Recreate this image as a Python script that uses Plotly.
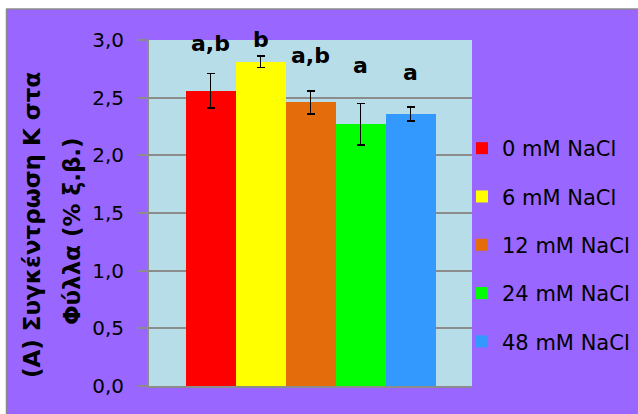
import plotly.graph_objects as go

# Leaf potassium concentration (% dry weight) under increasing NaCl
treatments = ["0 mM NaCl", "6 mM NaCl", "12 mM NaCl", "24 mM NaCl", "48 mM NaCl"]
k_content = [2.56, 2.81, 2.46, 2.27, 2.36]
k_error = [0.15, 0.05, 0.10, 0.18, 0.06]
group_labels = ["a,b", "b", "a,b", "a", "a"]
y_ticks = [0.0, 0.5, 1.0, 1.5, 2.0, 2.5, 3.0]

bar_colors = ["#FF0000", "#FFFF00", "#E46C0A", "#00FF00", "#3399FF"]
label_shift = [15, 2, 21, 23, 20]  # pixel lift of the letter labels above the error caps

W, H = 638, 414
M_L, M_R, M_T, M_B = 149, 166, 40, 28
PURPLE = "#9966FF"
GRID = "#8C8C8C"
FONT = "DejaVu Sans"


def px_x(p):
    return (p - M_L) / (W - M_L - M_R)


def px_y(p):
    return (H - M_B - p) / (H - M_T - M_B)


fig = go.Figure()
for name, val, err, col in zip(treatments, k_content, k_error, bar_colors):
    fig.add_trace(go.Bar(
        x=[name], y=[val], name=name, legendgroup=name,
        marker=dict(color=col, line=dict(width=0)),
        error_y=dict(type="data", array=[err], visible=True,
                     color="black", thickness=1.6, width=4),
    ))

annotations = []
for name, val, err, lab, sh in zip(treatments, k_content, k_error, group_labels, label_shift):
    annotations.append(dict(
        x=name, y=val + err, xref="x", yref="y", text=f"<b>{lab}</b>",
        showarrow=False, yanchor="bottom", yshift=sh,
        font=dict(family=FONT, size=22, color="black"),
    ))

# Two-line y-axis caption
annotations.append(dict(
    x=px_x(32), y=px_y(225), xref="paper", yref="paper",
    text="<b>(Α) Συγκέντρωση Κ στα</b>", textangle=-90, showarrow=False,
    xanchor="center", yanchor="middle",
    font=dict(family=FONT, size=23, color="black"),
))
annotations.append(dict(
    x=px_x(72), y=px_y(231), xref="paper", yref="paper",
    text="<b>Φύλλα (% ξ.β.)</b>", textangle=-90, showarrow=False,
    xanchor="center", yanchor="middle",
    font=dict(family=FONT, size=23, color="black"),
))

shapes = [
    # white strip and frame line around the chart area
    dict(type="rect", xref="paper", yref="paper", x0=px_x(0), x1=px_x(W),
         y0=px_y(9), y1=px_y(0), fillcolor="white", line=dict(width=0)),
    dict(type="rect", xref="paper", yref="paper", x0=px_x(0), x1=px_x(6),
         y0=px_y(H), y1=px_y(0), fillcolor="white", line=dict(width=0)),
    dict(type="line", xref="paper", yref="paper", x0=px_x(6), x1=px_x(W),
         y0=px_y(9), y1=px_y(9), line=dict(color=GRID, width=1.5)),
    dict(type="line", xref="paper", yref="paper", x0=px_x(6.5), x1=px_x(6.5),
         y0=px_y(9), y1=px_y(H), line=dict(color=GRID, width=1.5)),
]

fig.update_layout(
    width=W, height=H,
    margin=dict(l=M_L, r=M_R, t=M_T, b=M_B, autoexpand=False),
    paper_bgcolor=PURPLE, plot_bgcolor="#B7DDE8",
    separators=",.",
    barmode="overlay", bargap=0,
    showlegend=True,
    legend=dict(
        x=px_x(462), y=px_y(128), xanchor="left", yanchor="top",
        bgcolor="rgba(0,0,0,0)", tracegroupgap=18,
        font=dict(family=FONT, size=21, color="black"),
    ),
    annotations=annotations, shapes=shapes,
    font=dict(family=FONT, color="black"),
)

fig.update_xaxes(
    type="category", categoryorder="array", categoryarray=treatments,
    range=[-1.23, 4.0 + 1.23], showticklabels=False, ticks="",
    showgrid=False, showline=True, linecolor=GRID, linewidth=2, zeroline=False,
)
fig.update_yaxes(
    range=[0, 3], tickvals=y_ticks, tickformat=".1f",
    showgrid=True, gridcolor=GRID, gridwidth=1.5,
    showline=True, linecolor=GRID, linewidth=2,
    ticks="outside", ticklen=9, tickwidth=1.5, tickcolor=GRID,
    ticklabelstandoff=10, zeroline=False,
    tickfont=dict(family=FONT, size=20, color="black"),
)

fig.write_html("out.html")
